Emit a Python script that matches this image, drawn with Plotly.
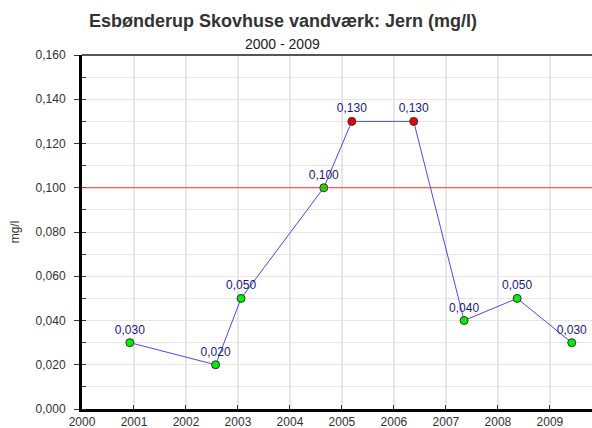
import plotly.graph_objects as go

# Data
sample_dates = [2000.92, 2002.57, 2003.06, 2004.65, 2005.19, 2006.38, 2007.35, 2008.37, 2009.42]
iron_values = [0.030, 0.020, 0.050, 0.100, 0.130, 0.130, 0.040, 0.050, 0.030]
threshold = 0.100
x_ticks = [2000, 2001, 2002, 2003, 2004, 2005, 2006, 2007, 2008, 2009]
y_ticks = [0.000, 0.020, 0.040, 0.060, 0.080, 0.100, 0.120, 0.140, 0.160]
title_text = "Esbønderup Skovhuse vandværk: Jern (mg/l)"
subtitle_text = "2000 - 2009"

marker_colors = ["#ee0000" if v > threshold else "#00ee00" for v in iron_values]
FONT = "Liberation Sans, Arial, sans-serif"

fig = go.Figure()

fig.add_trace(go.Scatter(
    x=sample_dates, y=iron_values,
    mode="lines+markers+text",
    line=dict(color="#4848ff", width=1),
    marker=dict(size=8, color=marker_colors, line=dict(color="#333333", width=1)),
    text=[f"{v:.3f}".replace(".", ",") for v in iron_values],
    textposition="top center",
    textfont=dict(family=FONT, size=12, color="#1a1a80"),
    hoverinfo="skip",
    showlegend=False,
    cliponaxis=False,
))

# threshold line
fig.add_shape(type="line", xref="paper", yref="y", x0=0, x1=1, y0=threshold, y1=threshold,
              line=dict(color="#ff3333", width=1), layer="above")
# top border
fig.add_shape(type="line", xref="paper", yref="paper", x0=0, x1=1, y0=1, y1=1,
              line=dict(color="#555555", width=2), layer="above")

fig.add_annotation(text=f"<b>{title_text}</b>", xref="paper", yref="paper",
                   x=0.394, y=1.096, xanchor="center", yanchor="middle", showarrow=False,
                   font=dict(family=FONT, size=18, color="#333333"))
fig.add_annotation(text=subtitle_text, xref="paper", yref="paper",
                   x=0.394, y=1.031, xanchor="center", yanchor="middle", showarrow=False,
                   font=dict(family=FONT, size=14, color="#222222"))

fig.update_layout(
    width=592, height=428,
    margin=dict(l=82, r=0, t=55, b=19),
    paper_bgcolor="white", plot_bgcolor="white",
    separators=",.",
    font=dict(family=FONT, size=12, color="#333333"),
)

fig.update_xaxes(
    range=[2000, 2009.81],
    tickvals=x_ticks, ticktext=[str(t) for t in x_ticks],
    showgrid=True, gridcolor="#e6e6e6", gridwidth=2,
    showline=True, linecolor="black", linewidth=3,
    ticks="inside", ticklen=4, tickcolor="#333333", tickwidth=1,
    tickfont=dict(size=12, color="#333333"),
    zeroline=False, fixedrange=True, automargin=False,
)

fig.update_yaxes(
    range=[0, 0.16],
    tickvals=y_ticks, tickformat=".3f",
    showgrid=True, gridcolor="#e6e6e6", gridwidth=1,
    showline=True, linecolor="black", linewidth=3,
    ticks="outside", ticklen=5, tickcolor="#333333", tickwidth=1,
    ticklabelstandoff=6,
    minor=dict(dtick=0.01, ticks="inside", ticklen=4, tickcolor="#333333",
               showgrid=True, gridcolor="#e6e6e6", gridwidth=1),
    tickfont=dict(size=12, color="#333333"),
    title=dict(text="mg/l", font=dict(size=12, color="#333333"), standoff=14),
    zeroline=False, fixedrange=True, automargin=False,
)

fig.write_html("out.html", config={"displayModeBar": False},
               post_script="document.body.style.margin='0';")
